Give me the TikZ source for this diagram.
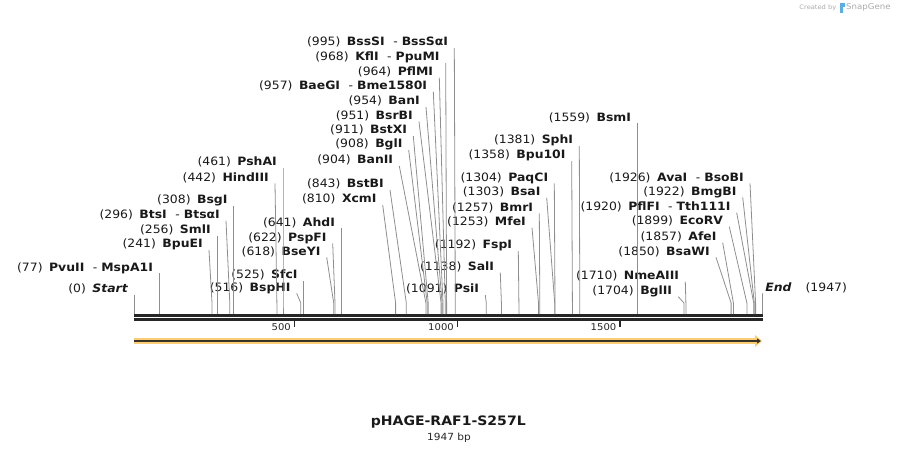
\documentclass[tikz,border=0pt]{standalone}
\usepackage{fontspec}
\setmainfont{DejaVu Sans}[FakeStretch=1.08]
\usetikzlibrary{arrows.meta}
\definecolor{leadgray}{HTML}{8E8E8E}
\definecolor{bardark}{HTML}{262626}
\definecolor{featorange}{HTML}{F9CE76}
\definecolor{featdark}{HTML}{3B3226}
\definecolor{sgblue}{HTML}{5AAEE6}
\definecolor{sggray}{HTML}{AAAAAA}
\newcommand{\enzname}[1]{\hspace{6.5pt}\textbf{#1}}
\newcommand{\andalso}{\hspace{8.5pt}-\hspace{4pt}}
\tikzset{
  enz/.style={anchor=south east, inner xsep=6pt, inner ysep=0pt, text height=8pt, text depth=2pt,
    font=\fontsize{11.5}{13}\selectfont, text=black!90},
  lead/.style={draw=leadgray, line width=0.8pt},
  seqline/.style={draw=bardark, line width=2.7pt},
  tickmark/.style={draw=bardark, line width=1.5pt},
  ticklabel/.style={anchor=east, inner sep=0pt, font=\fontsize{9.3}{11}\selectfont, text=black!85},
}
\begin{document}
\begin{tikzpicture}[x=1pt,y=-1pt]
	\useasboundingbox (0,0) rectangle (897,453);
	% sequence and feature
	\draw[seqline] (134.3,315.4) -- (762.7,315.4);
	\draw[seqline] (134.3,319.7) -- (762.7,319.7);
	\draw[featorange, line width=5.3pt, -{Triangle[length=7pt,width=11.7pt]}] (134,341) -- (762,341);
	\draw[featdark, line width=1.8pt, -{Triangle[length=4pt,width=5pt]}] (134,341) -- (761,341);
	% scale
	\draw[tickmark] (294.5,321) -- (294.5,327);
	\draw[tickmark] (457.5,321) -- (457.5,327);
	\draw[tickmark] (620,321) -- (620,327);
	\node[ticklabel] (t500) at (291,327) {500};
	\node[ticklabel] (t1000) at (454,327) {1000};
	\node[ticklabel] (t1500) at (616.5,327) {1500};
	% cut sites on the bar
	\coordinate (knee) at (0,303);
	\coordinate (c0) at (134.3,314);
	\coordinate (c77) at (159.1,314);
	\coordinate (c241) at (212.0,314);
	\coordinate (c256) at (216.9,314);
	\coordinate (c296) at (229.8,314);
	\coordinate (c308) at (233.7,314);
	\coordinate (c442) at (276.9,314);
	\coordinate (c461) at (283.0,314);
	\coordinate (c516) at (300.8,314);
	\coordinate (c525) at (303.7,314);
	\coordinate (c618) at (333.7,314);
	\coordinate (c622) at (335.0,314);
	\coordinate (c641) at (341.1,314);
	\coordinate (c810) at (395.6,314);
	\coordinate (c843) at (406.3,314);
	\coordinate (c904) at (425.9,314);
	\coordinate (c908) at (427.2,314);
	\coordinate (c911) at (428.2,314);
	\coordinate (c951) at (441.1,314);
	\coordinate (c954) at (442.1,314);
	\coordinate (c957) at (443.0,314);
	\coordinate (c964) at (445.3,314);
	\coordinate (c968) at (446.6,314);
	\coordinate (c995) at (455.3,314);
	\coordinate (c1091) at (486.3,314);
	\coordinate (c1138) at (501.4,314);
	\coordinate (c1192) at (518.9,314);
	\coordinate (c1253) at (538.5,314);
	\coordinate (c1257) at (539.8,314);
	\coordinate (c1303) at (554.7,314);
	\coordinate (c1304) at (555.0,314);
	\coordinate (c1358) at (572.4,314);
	\coordinate (c1381) at (579.8,314);
	\coordinate (c1559) at (637.2,314);
	\coordinate (c1704) at (684.0,314);
	\coordinate (c1710) at (685.9,314);
	\coordinate (c1850) at (731.1,314);
	\coordinate (c1857) at (733.4,314);
	\coordinate (c1899) at (746.9,314);
	\coordinate (c1920) at (753.7,314);
	\coordinate (c1922) at (754.3,314);
	\coordinate (c1926) at (755.6,314);
	\coordinate (c1947) at (762.4,314);
	% enzyme labels
	\node[enz] (start) at (134.3,295) {(0)\enzname{\textit{Start}}};
	\node[enz] (pvuII) at (159.1,273.3) {(77)\enzname{PvuII}\andalso\textbf{MspA1I}};
	\node[enz] (bpuEI) at (209,250) {(241)\enzname{BpuEI}};
	\node[enz] (smlI) at (216.9,236) {(256)\enzname{SmlI}};
	\node[enz] (btsI) at (226,220.7) {(296)\enzname{BtsI}\andalso\textbf{BtsαI}};
	\node[enz] (bsgI) at (233.7,206) {(308)\enzname{BsgI}};
	\node[enz] (hindIII) at (275,183.3) {(442)\enzname{HindIII}};
	\node[enz] (pshAI) at (283.0,168) {(461)\enzname{PshAI}};
	\node[enz] (bspHI) at (296.7,293.3) {(516)\enzname{BspHI}};
	\node[enz] (sfcI) at (303.7,281) {(525)\enzname{SfcI}};
	\node[enz] (bseYI) at (326.7,257.3) {(618)\enzname{BseYI}};
	\node[enz] (pspFI) at (332.7,243.3) {(622)\enzname{PspFI}};
	\node[enz] (ahdI) at (341.1,228.3) {(641)\enzname{AhdI}};
	\node[enz] (xcmI) at (382.7,205) {(810)\enzname{XcmI}};
	\node[enz] (bstBI) at (390,190) {(843)\enzname{BstBI}};
	\node[enz] (banII) at (399.3,166) {(904)\enzname{BanII}};
	\node[enz] (bglI) at (408.7,150) {(908)\enzname{BglI}};
	\node[enz] (bstXI) at (413.3,136) {(911)\enzname{BstXI}};
	\node[enz] (bsrBI) at (419,121.7) {(951)\enzname{BsrBI}};
	\node[enz] (banI) at (426,107) {(954)\enzname{BanI}};
	\node[enz] (baeGI) at (433.3,91.7) {(957)\enzname{BaeGI}\andalso\textbf{Bme1580I}};
	\node[enz] (pflMI) at (439.3,77.7) {(964)\enzname{PflMI}};
	\node[enz] (kflI) at (445.7,63) {(968)\enzname{KflI}\andalso\textbf{PpuMI}};
	\node[enz] (bssSI) at (454.3,48) {(995)\enzname{BssSI}\andalso\textbf{BssSαI}};
	\node[enz] (psiI) at (485.3,295) {(1091)\enzname{PsiI}};
	\node[enz] (salI) at (500.3,272.7) {(1138)\enzname{SalI}};
	\node[enz] (fspI) at (518.3,251) {(1192)\enzname{FspI}};
	\node[enz] (mfeI) at (532,227.7) {(1253)\enzname{MfeI}};
	\node[enz] (bmrI) at (539.3,213.3) {(1257)\enzname{BmrI}};
	\node[enz] (bsaI) at (546.7,197.7) {(1303)\enzname{BsaI}};
	\node[enz] (paqCI) at (554.3,183.3) {(1304)\enzname{PaqCI}};
	\node[enz] (bpu10I) at (571.7,161) {(1358)\enzname{Bpu10I}};
	\node[enz] (sphI) at (579.3,146) {(1381)\enzname{SphI}};
	\node[enz] (bsmI) at (637.2,123.3) {(1559)\enzname{BsmI}};
	\node[enz] (bglII) at (678.3,296.7) {(1704)\enzname{BglII}};
	\node[enz] (nmeAIII) at (685.3,281.7) {(1710)\enzname{NmeAIII}};
	\node[enz] (bsaWI) at (716,257.3) {(1850)\enzname{BsaWI}};
	\node[enz] (afeI) at (722.7,242.7) {(1857)\enzname{AfeI}};
	\node[enz] (ecoRV) at (729.3,226.7) {(1899)\enzname{EcoRV}};
	\node[enz] (pflFI) at (736.7,212.7) {(1920)\enzname{PflFI}\andalso\textbf{Tth111I}};
	\node[enz] (bmgBI) at (742.7,197.3) {(1922)\enzname{BmgBI}};
	\node[enz] (avaI) at (750,183.3) {(1926)\enzname{AvaI}\andalso\textbf{BsoBI}};
	\node[enz, anchor=south west, inner xsep=2.5pt] (endmark) at (762.6,293.3) {\textbf{\textit{End}}\hspace{14pt}(1947)};
	% leader lines
	\draw[lead] (start.south east) -- (c0 |- knee) -- (c0);
	\draw[lead] (pvuII.south east) -- (c77 |- knee) -- (c77);
	\draw[lead] (bpuEI.south east) -- (c241 |- knee) -- (c241);
	\draw[lead] (smlI.south east) -- (c256 |- knee) -- (c256);
	\draw[lead] (btsI.south east) -- (c296 |- knee) -- (c296);
	\draw[lead] (bsgI.south east) -- (c308 |- knee) -- (c308);
	\draw[lead] (hindIII.south east) -- (c442 |- knee) -- (c442);
	\draw[lead] (pshAI.south east) -- (c461 |- knee) -- (c461);
	\draw[lead] (bspHI.south east) -- (c516 |- knee) -- (c516);
	\draw[lead] (sfcI.south east) -- (c525 |- knee) -- (c525);
	\draw[lead] (bseYI.south east) -- (c618 |- knee) -- (c618);
	\draw[lead] (pspFI.south east) -- (c622 |- knee) -- (c622);
	\draw[lead] (ahdI.south east) -- (c641 |- knee) -- (c641);
	\draw[lead] (xcmI.south east) -- (c810 |- knee) -- (c810);
	\draw[lead] (bstBI.south east) -- (c843 |- knee) -- (c843);
	\draw[lead] (banII.south east) -- (c904 |- knee) -- (c904);
	\draw[lead] (bglI.south east) -- (c908 |- knee) -- (c908);
	\draw[lead] (bstXI.south east) -- (c911 |- knee) -- (c911);
	\draw[lead] (bsrBI.south east) -- (c951 |- knee) -- (c951);
	\draw[lead] (banI.south east) -- (c954 |- knee) -- (c954);
	\draw[lead] (baeGI.south east) -- (c957 |- knee) -- (c957);
	\draw[lead] (pflMI.south east) -- (c964 |- knee) -- (c964);
	\draw[lead] (kflI.south east) -- (c968 |- knee) -- (c968);
	\draw[lead] (bssSI.south east) -- (c995 |- knee) -- (c995);
	\draw[lead] (psiI.south east) -- (c1091 |- knee) -- (c1091);
	\draw[lead] (salI.south east) -- (c1138 |- knee) -- (c1138);
	\draw[lead] (fspI.south east) -- (c1192 |- knee) -- (c1192);
	\draw[lead] (mfeI.south east) -- (c1253 |- knee) -- (c1253);
	\draw[lead] (bmrI.south east) -- (c1257 |- knee) -- (c1257);
	\draw[lead] (bsaI.south east) -- (c1303 |- knee) -- (c1303);
	\draw[lead] (paqCI.south east) -- (c1304 |- knee) -- (c1304);
	\draw[lead] (bpu10I.south east) -- (c1358 |- knee) -- (c1358);
	\draw[lead] (sphI.south east) -- (c1381 |- knee) -- (c1381);
	\draw[lead] (bsmI.south east) -- (c1559 |- knee) -- (c1559);
	\draw[lead] (bglII.south east) -- (c1704 |- knee) -- (c1704);
	\draw[lead] (nmeAIII.south east) -- (c1710 |- knee) -- (c1710);
	\draw[lead] (bsaWI.south east) -- (c1850 |- knee) -- (c1850);
	\draw[lead] (afeI.south east) -- (c1857 |- knee) -- (c1857);
	\draw[lead] (ecoRV.south east) -- (c1899 |- knee) -- (c1899);
	\draw[lead] (pflFI.south east) -- (c1920 |- knee) -- (c1920);
	\draw[lead] (bmgBI.south east) -- (c1922 |- knee) -- (c1922);
	\draw[lead] (avaI.south east) -- (c1926 |- knee) -- (c1926);
	\draw[lead] (endmark.south west) -- (c1947 |- knee) -- (c1947);
	% title
	\node[font=\fontsize{13}{15}\selectfont\bfseries, text=black!90] (title) at (448.3,422) {pHAGE-RAF1-S257L};
	\node[font=\fontsize{9.8}{12}\selectfont, text=black!85] (bplen) at (449,437.5) {1947 bp};
	% credit
	\node[anchor=east, inner sep=0pt, font=\fontsize{6.2}{8}\selectfont, text=sggray] (credit) at (836.5,7.5) {Created by};
	\fill[sgblue] (839.5,2.5) rectangle (842.5,12.5);
	\fill[sgblue] (842.5,2.5) rectangle (844.5,6.5);
	\node[anchor=west, inner sep=0pt, font=\fontsize{8}{10}\selectfont, text=sggray] (brand) at (846,7.5) {SnapGene};
\end{tikzpicture}
\end{document}
